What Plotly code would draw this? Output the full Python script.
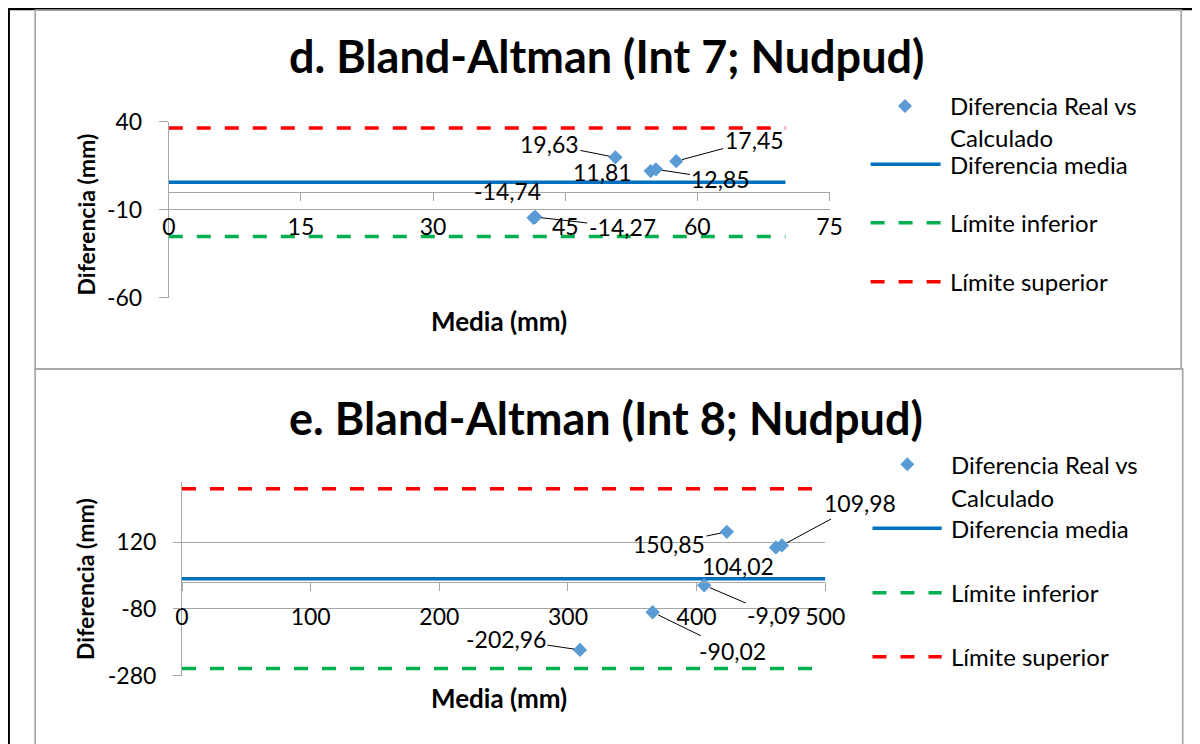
import plotly.graph_objects as go

# page offset of the figure inside the browser page (body margin)
OFF = 8
W, H = 1200 - OFF, 744 - OFF
FONT = "Lato"

# ---------------- data: chart d ----------------
d_title = "d. Bland-Altman (Int 7; Nudpud)"
d_media = [41.4, 41.6, 50.7, 54.7, 55.3, 57.6]
d_dif = [-14.74, -14.27, 19.63, 11.81, 12.85, 17.45]
d_labels = ["-14,74", "-14,27", "19,63", "11,81", "12,85", "17,45"]
d_line_x = [0, 70]
d_mean = 5.46
d_lower = -25.35
d_upper = 36.26
d_xticks = [0, 15, 30, 45, 60, 75]
d_yticks = [-60, -10, 40]

# ---------------- data: chart e ----------------
e_title = "e. Bland-Altman (Int 8; Nudpud)"
e_media = [309.3, 365.8, 405.9, 423.5, 461.6, 466.3]
e_dif = [-202.96, -90.02, -9.09, 150.85, 104.02, 109.98]
e_labels = ["-202,96", "-90,02", "-9,09", "150,85", "104,02", "109,98"]
e_line_x = [0, 500]
e_mean = 10.46
e_lower = -258.8
e_upper = 279.8
e_xticks = [0, 100, 200, 300, 400, 500]
e_yticks = [-280, -80, 120]

legend_names = ["Diferencia Real vs<br>Calculado", "Diferencia media",
                "Límite inferior", "Límite superior"]

# label placement (pixel offsets of label centre from the point; leader flag)
d_label_pos = [(-26, -27, False), (87, 10, True), (-66, -13, True),
               (-48, 1, False), (65, 10, True), (78, -21, True)]
e_label_pos = [(-74, -11, True), (80, 39, True), (70, 30, True),
               (-58, 12, True), (-38, 19, False), (78, -42, True)]

BLUE_PT = "#5B9BD5"
BLUE_LN = "#0070C0"
GREEN = "#00B050"
RED = "#FF0000"
GRID = "#a6a6a6"
TICK_SIZE = 23
LEG_SIZE = 24


def px(x):
    return (x - OFF) / W


def py(y):
    return 1 - (y - OFF) / H


fig = go.Figure()

panels = [
    dict(ax="", media=d_media, dif=d_dif, labels=d_labels, lx=d_line_x,
         mean=d_mean, lo=d_lower, up=d_upper, xt=d_xticks, yt=d_yticks,
         xr=[0, 75], yr=[-60, 40], xdom=(168.8, 829.5), ydom=(121.5, 297.5),
         pos=d_label_pos, title=d_title, ylen=9),
    dict(ax="2", media=e_media, dif=e_dif, labels=e_labels, lx=e_line_x,
         mean=e_mean, lo=e_lower, up=e_upper, xt=e_xticks, yt=e_yticks,
         xr=[0, 500], yr=[-280, 300], xdom=(182, 825.3), ydom=(482, 675.7),
         pos=e_label_pos, title=e_title, ylen=8),
]

annotations = []
shapes = []

for p in panels:
    xa = "x" + p["ax"]
    ya = "y" + p["ax"]
    fig.add_trace(go.Scatter(x=p["lx"], y=[p["mean"]] * 2, mode="lines", xaxis=xa, yaxis=ya,
                             line=dict(color=BLUE_LN, width=3.5), showlegend=False, hoverinfo="skip"))
    fig.add_trace(go.Scatter(x=p["lx"], y=[p["lo"]] * 2, mode="lines", xaxis=xa, yaxis=ya,
                             line=dict(color=GREEN, width=3.5, dash="14px,14px"), showlegend=False,
                             hoverinfo="skip"))
    fig.add_trace(go.Scatter(x=p["lx"], y=[p["up"]] * 2, mode="lines", xaxis=xa, yaxis=ya,
                             line=dict(color=RED, width=3.5, dash="14px,14px"), showlegend=False,
                             hoverinfo="skip"))
    fig.add_trace(go.Scatter(x=p["media"], y=p["dif"], mode="markers", xaxis=xa, yaxis=ya,
                             marker=dict(symbol="diamond", size=11, color=BLUE_PT),
                             showlegend=False))

    y0p, y1p = p["ydom"]
    x0p, x1p = p["xdom"]
    ydom = [py(y1p), py(y0p)]
    frac = (0 - p["yr"][0]) / (p["yr"][1] - p["yr"][0])
    xpos = ydom[0] + frac * (ydom[1] - ydom[0])
    xkey = "xaxis" + p["ax"]
    ykey = "yaxis" + p["ax"]
    fig.update_layout(**{
        xkey: dict(domain=[px(x0p), px(x1p)], range=p["xr"], anchor="free", position=xpos,
                   tickvals=p["xt"], ticktext=[str(v) for v in p["xt"]],
                   showline=True, linecolor=GRID, linewidth=1,
                   ticks="outside", ticklen=8, tickcolor=GRID, tickwidth=1,
                   showgrid=False, zeroline=False, ticklabelstandoff=6, automargin=False,
                   tickfont=dict(family=FONT, size=TICK_SIZE, color="black")),
        ykey: dict(domain=ydom, range=p["yr"], anchor=xa,
                   tickvals=p["yt"], ticktext=[str(v) for v in p["yt"]],
                   showline=True, linecolor=GRID, linewidth=1,
                   ticks="outside", ticklen=p["ylen"], tickcolor=GRID, tickwidth=1,
                   showgrid=True, gridcolor=GRID, gridwidth=1, zeroline=False,
                   ticklabelstandoff=12, automargin=False,
                   tickfont=dict(family=FONT, size=TICK_SIZE, color="black")),
    })

    for xv, yv, lab, (ox, oy, lead) in zip(p["media"], p["dif"], p["labels"], p["pos"]):
        if lead:
            annotations.append(dict(x=xv, y=yv, xref=xa, yref=ya, text=lab, showarrow=True,
                                    ax=ox, ay=oy, arrowhead=0, arrowwidth=1, arrowcolor="black",
                                    standoff=6, font=dict(family=FONT, size=TICK_SIZE, color="black")))
        else:
            annotations.append(dict(x=xv, y=yv, xref=xa, yref=ya, text=lab, showarrow=False,
                                    xshift=ox, yshift=-oy,
                                    font=dict(family=FONT, size=TICK_SIZE, color="black")))

for title, ty, yt_y, xt_y in [(d_title, 56, 214.5, 320.7), (e_title, 418, 579, 698.3)]:
    annotations.append(dict(x=px(606), y=py(ty), xref="paper", yref="paper", text="<b>" + title + "</b>",
                            showarrow=False, xanchor="center", yanchor="middle",
                            font=dict(family=FONT, size=45, color="black")))
    annotations.append(dict(x=px(85), y=py(yt_y), xref="paper", yref="paper", text="<b>Diferencia (mm)</b>",
                            showarrow=False, textangle=-90, xanchor="center", yanchor="middle",
                            font=dict(family=FONT, size=23, color="black")))
    annotations.append(dict(x=px(499), y=py(xt_y), xref="paper", yref="paper", text="<b>Media (mm)</b>",
                            showarrow=False, xanchor="center", yanchor="middle",
                            font=dict(family=FONT, size=26, color="black")))

for dx, (ys, lx0, lx1, tx) in [(905, ([106, 137.7, 164.3, 222.7, 281.7], 870.6, 940.6, 947.5)),
                               (907.3, ([464.3, 497.3, 528.3, 592.7, 656.7], 872.5, 941.7, 949.4))]:
    cx, cy = dx, ys[0]
    r = 7
    shapes.append(dict(type="path", xref="paper", yref="paper",
                       path=f"M {px(cx)},{py(cy - r)} L {px(cx + r)},{py(cy)} L {px(cx)},{py(cy + r)} L {px(cx - r)},{py(cy)} Z",
                       fillcolor=BLUE_PT, line=dict(width=0)))
    first, second = legend_names[0].split("<br>")
    annotations.append(dict(x=px(tx), y=py(ys[0]), xref="paper", yref="paper", text=first, showarrow=False,
                            xanchor="left", yanchor="middle", font=dict(family=FONT, size=LEG_SIZE, color="black")))
    annotations.append(dict(x=px(tx), y=py(ys[1]), xref="paper", yref="paper", text=second, showarrow=False,
                            xanchor="left", yanchor="middle", font=dict(family=FONT, size=LEG_SIZE, color="black")))
    for name, yy, col, dash in [(legend_names[1], ys[2], BLUE_LN, "solid"),
                                (legend_names[2], ys[3], GREEN, "14px,14px"),
                                (legend_names[3], ys[4], RED, "14px,14px")]:
        shapes.append(dict(type="line", xref="paper", yref="paper", x0=px(lx0), x1=px(lx1),
                           y0=py(yy), y1=py(yy), line=dict(color=col, width=3.5, dash=dash)))
        annotations.append(dict(x=px(tx), y=py(yy), xref="paper", yref="paper", text=name, showarrow=False,
                                xanchor="left", yanchor="middle",
                                font=dict(family=FONT, size=LEG_SIZE, color="black")))

shapes += [
    dict(type="line", xref="paper", yref="paper", x0=px(6.7), x1=px(1205), y0=py(8.9), y1=py(8.9),
         line=dict(color="black", width=2.7)),
    dict(type="line", xref="paper", yref="paper", x0=px(8.6), x1=px(8.6), y0=py(7.3), y1=py(750),
         line=dict(color="black", width=2.7)),
    dict(type="rect", xref="paper", yref="paper", x0=px(35.2), x1=px(1181.2), y0=py(368.8), y1=py(10.2),
         line=dict(color=GRID, width=1.7)),
    dict(type="rect", xref="paper", yref="paper", x0=px(35.2), x1=px(1182.7), y0=py(760), y1=py(368.8),
         line=dict(color=GRID, width=1.7)),
]

fig.update_layout(width=W, height=H, margin=dict(l=0, r=0, t=0, b=0, pad=0, autoexpand=False),
                  paper_bgcolor="white", plot_bgcolor="white",
                  annotations=annotations, shapes=shapes, showlegend=False)

fig.write_html("out.html")
